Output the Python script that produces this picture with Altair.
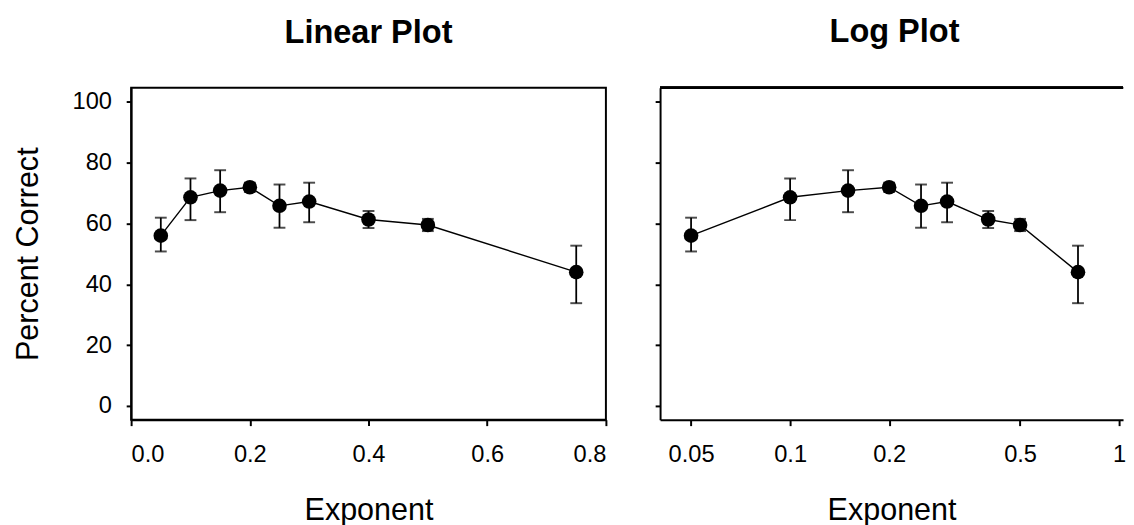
import altair as alt
import pandas as pd

exponent = [0.05, 0.1, 0.15, 0.2, 0.25, 0.3, 0.4, 0.5, 0.75]
pct_correct = [56.0, 68.6, 70.8, 71.9, 65.8, 67.2, 61.3, 59.5, 44.0]
err_high = [61.9, 74.8, 77.5, 73.4, 72.8, 73.4, 64.1, 61.5, 52.7]
err_low = [50.8, 61.1, 63.7, 70.4, 58.6, 60.4, 58.5, 57.5, 33.8]

y_ticks = [0, 20, 40, 60, 80, 100]
lin_ticks = [0.0, 0.2, 0.4, 0.6, 0.8]
log_ticks = [0.05, 0.1, 0.2, 0.5, 1]

df = pd.DataFrame({"exp": exponent, "pct": pct_correct, "hi": err_high, "lo": err_low})

FONT = "Liberation Sans"
Y_DOMAIN = [-4.5, 104.6]
W_LEFT, W_RIGHT, H = 482, 470, 337
TITLE_OFFSET = 12


def panel(xscale, xaxis, yaxis, width):
    base = alt.Chart(df)
    x = alt.X("exp:Q", scale=xscale, axis=xaxis)
    y = alt.Y("pct:Q", scale=alt.Scale(domain=Y_DOMAIN, nice=False, zero=False), axis=yaxis)
    line = base.mark_line(color="black", strokeWidth=1.4).encode(x=x, y=y)
    bars = base.mark_rule(color="black", strokeWidth=1.8).encode(x=x, y=alt.Y("lo:Q"), y2="hi:Q")
    cap_hi = base.mark_tick(color="black", orient="horizontal", size=12, thickness=2).encode(x=x, y=alt.Y("hi:Q"))
    cap_lo = base.mark_tick(color="black", orient="horizontal", size=12, thickness=2).encode(x=x, y=alt.Y("lo:Q"))
    pts = base.mark_point(filled=True, color="black", opacity=1, size=220, shape="circle").encode(x=x, y=y)
    return alt.layer(line, bars, cap_hi, cap_lo, pts).properties(width=width, height=H)


common_x = dict(tickSize=6, labelPadding=17, titleFontSize=31, titleFontWeight="normal",
                titleBaseline="alphabetic", titleY=101.5, title="Exponent", grid=False)

left = panel(
    alt.Scale(domain=[0, 0.8], nice=False, zero=False),
    alt.Axis(values=lin_ticks, format=".1f", **common_x),
    alt.Axis(values=y_ticks, title="Percent Correct", titleFontSize=31, titleFontWeight="normal",
             titleBaseline="alphabetic", titleX=-95, tickSize=5, labelPadding=15, grid=False),
    W_LEFT,
).properties(
    view=alt.ViewBackground(stroke="black", strokeWidth=2),
    title=alt.TitleParams("Linear Plot", fontSize=33, fontWeight="bold", font=FONT,
                          baseline="alphabetic", offset=TITLE_OFFSET, color="black"),
)

right_main = panel(
    alt.Scale(type="log", domain=[0.04025, 1.028], nice=False),
    alt.Axis(values=log_ticks, format="~g", **common_x),
    alt.Axis(values=y_ticks, labels=False, title=None, tickSize=5, grid=False),
    W_RIGHT,
)

top_line = alt.Chart(df).mark_rule(color="black", strokeWidth=2).encode(
    x=alt.value(0), x2=alt.value(W_RIGHT), y=alt.value(0)
)

right = alt.layer(right_main, top_line).properties(
    view=alt.ViewBackground(stroke=None),
    title=alt.TitleParams("Log Plot", fontSize=33, fontWeight="bold", font=FONT,
                          baseline="alphabetic", offset=TITLE_OFFSET, dx=3, color="black"),
)

chart = alt.hconcat(left, right, spacing=47).properties(
    padding={"left": 4, "top": 5, "right": 0, "bottom": 0}
).configure_axis(
    labelFont=FONT, titleFont=FONT, labelFontSize=24, labelColor="black", titleColor="black",
    domainColor="black", domainWidth=2, tickColor="black", tickWidth=2,
).configure_view(stroke=None)

chart.save("out.html", embed_options={"renderer": "svg", "actions": False})
